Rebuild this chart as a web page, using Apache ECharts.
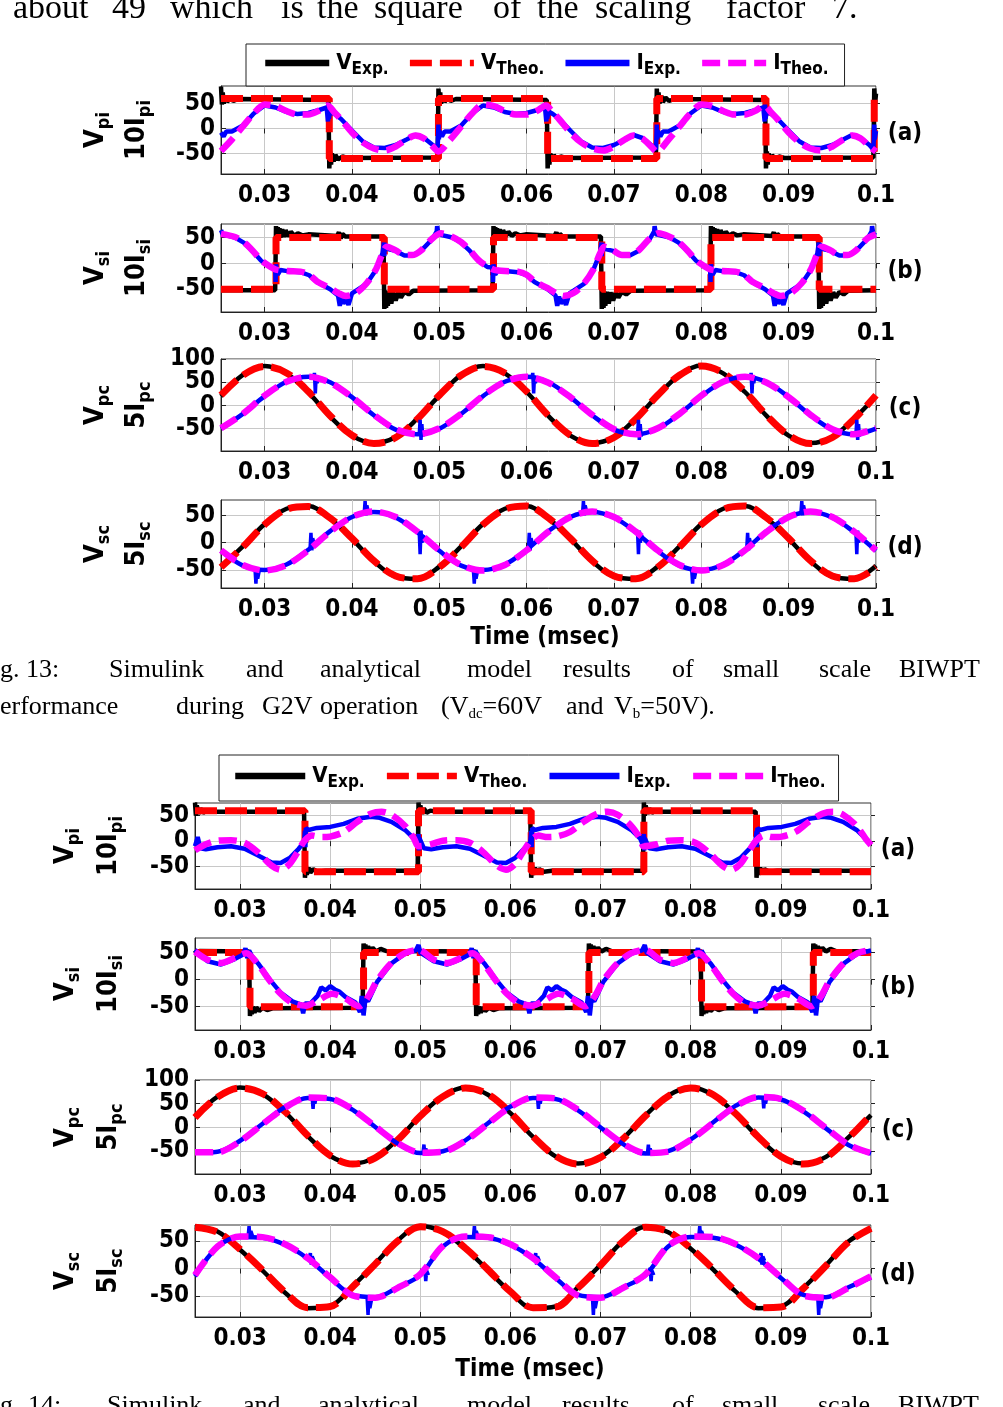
<!DOCTYPE html>
<html><head><meta charset="utf-8">
<script src="https://cdn.jsdelivr.net/npm/echarts@6/dist/echarts.min.js"></script>
<style>html,body{margin:0;padding:0;background:#fff}#c{width:1003px;height:1407px}</style>
</head><body><div id="c"></div>
<script>
// ---------- shared axis values ----------
const tGrid = [0.025,0.0275,0.03,0.0325,0.035,0.0375,0.04,0.0425,0.045,0.0475,0.05,0.0525,0.055,0.0575,0.06,0.0625,0.065,0.0675,0.07,0.0725,0.075,0.0775,0.08,0.0825,0.085,0.0875,0.09,0.0925,0.095,0.0975,0.1];
const xTicks = [0.03,0.04,0.05,0.06,0.07,0.08,0.09,0.1];
const yTicks = [-50,0,50];
const yTicksC = [-50,0,50,100];
const yLabelsC1 = [-50,50];
const yLabelsC2 = [0,100];

// ---------- Fig.13 (a) ----------
const f1a_vTheo = [[0.025,60],[0.0374,60],[0.0374,-60],[0.0499,-60],[0.0499,60],[0.0624,60],[0.0624,-60],[0.0749,-60],[0.0749,60],[0.0874,60],[0.0874,-60],[0.0998,-60],[0.0998,60],[0.1,60]];
const f1a_vExp = [[0.025,84],[0.0251,48],[0.0252,72],[0.0253,50],[0.0255,66],[0.0257,53],[0.026,62],[0.0264,55],[0.027,59],[0.0373,57],
[0.0374,57],[0.0374,-80],[0.0375,-46],[0.0376,-72],[0.0377,-50],[0.0379,-66],[0.0381,-53],[0.0384,-62],[0.0389,-56],[0.0395,-59],[0.0498,-58],
[0.0499,-58],[0.0499,80],[0.05,46],[0.0501,72],[0.0502,50],[0.0504,66],[0.0506,53],[0.0509,62],[0.0513,55],[0.0519,59],[0.0623,57],
[0.0624,57],[0.0624,-80],[0.0625,-46],[0.0626,-72],[0.0627,-50],[0.0629,-66],[0.0631,-53],[0.0634,-62],[0.0639,-56],[0.0645,-59],[0.0748,-58],
[0.0749,-58],[0.0749,80],[0.075,46],[0.0751,72],[0.0752,50],[0.0754,66],[0.0756,53],[0.0759,62],[0.0763,55],[0.0769,59],[0.0873,57],
[0.0874,57],[0.0874,-80],[0.0875,-46],[0.0876,-72],[0.0877,-50],[0.0879,-66],[0.0881,-53],[0.0884,-62],[0.0889,-56],[0.0895,-59],[0.0997,-58],
[0.0998,-58],[0.0998,80],[0.0999,50],[0.1,70]];
const f1a_iTheo = [[0.025,-45],[0.02625,-22],[0.0275,4],[0.02875,30],[0.03,48],[0.03125,45],[0.0325,35],[0.03375,28],[0.035,28],[0.03625,36],[0.0372,46],[0.038,32],[0.03875,18],[0.04,-8],[0.04125,-28],[0.0425,-40],[0.04375,-44],[0.045,-36],[0.04625,-22],[0.04725,-14],[0.04825,-20],[0.04925,-36],[0.0499,-46],
[0.05125,-22],[0.0525,4],[0.05375,30],[0.055,48],[0.05625,45],[0.0575,35],[0.05875,28],[0.06,28],[0.06125,36],[0.0622,46],[0.063,32],[0.06375,18],[0.065,-8],[0.06625,-28],[0.0675,-40],[0.06875,-44],[0.07,-36],[0.07125,-22],[0.07225,-14],[0.07325,-20],[0.07425,-36],[0.0749,-46],
[0.07625,-22],[0.0775,4],[0.07875,30],[0.08,48],[0.08125,45],[0.0825,35],[0.08375,28],[0.085,28],[0.08625,36],[0.0872,46],[0.088,32],[0.08875,18],[0.09,-8],[0.09125,-28],[0.0925,-40],[0.09375,-44],[0.095,-36],[0.09625,-22],[0.09725,-14],[0.09825,-20],[0.09925,-36],[0.1,-46]];
const f1a_iExp = [[0.025,-8],[0.0253,-16],[0.0256,-6],[0.02625,-6],[0.0275,6],[0.02875,30],[0.03,46],[0.03125,42],[0.0325,33],[0.03375,29],[0.035,31],[0.03625,37],[0.0371,42],[0.03725,14],[0.0373,48],[0.03735,20],[0.0375,34],[0.038,29],[0.03875,19],[0.04,-4],[0.04125,-26],[0.0425,-38],[0.04375,-39],[0.045,-33],[0.04625,-22],[0.04725,-13],[0.04825,-19],[0.04925,-33],[0.0498,-42],[0.04985,-20],[0.0499,8],[0.04995,-22],[0.05,-5],[0.0503,-16],[0.0506,-6],
[0.05125,-6],[0.0525,6],[0.05375,30],[0.055,46],[0.05625,42],[0.0575,33],[0.05875,29],[0.06,31],[0.06125,37],[0.0621,42],[0.06225,14],[0.0623,48],[0.06235,20],[0.0625,34],[0.063,29],[0.06375,19],[0.065,-4],[0.06625,-26],[0.0675,-38],[0.06875,-39],[0.07,-33],[0.07125,-22],[0.07225,-13],[0.07325,-19],[0.07425,-33],[0.0748,-42],[0.07485,-20],[0.0749,8],[0.07495,-22],[0.075,-5],[0.0753,-16],[0.0756,-6],
[0.07625,-6],[0.0775,6],[0.07875,30],[0.08,46],[0.08125,42],[0.0825,33],[0.08375,29],[0.085,31],[0.08625,37],[0.0871,42],[0.08725,14],[0.0873,48],[0.08735,20],[0.0875,34],[0.088,29],[0.08875,19],[0.09,-4],[0.09125,-26],[0.0925,-38],[0.09375,-39],[0.095,-33],[0.09625,-22],[0.09725,-13],[0.09825,-19],[0.09925,-33],[0.0997,-42],[0.09975,-20],[0.0998,8],[0.09985,-22],[0.1,-5]];

// ---------- Fig.13 (b) ----------
const f1b_vTheo = [[0.025,-50],[0.0313,-50],[0.0313,50],[0.0437,50],[0.0437,-50],[0.0562,-50],[0.0562,50],[0.0686,50],[0.0686,-50],[0.0811,-50],[0.0811,50],[0.0935,50],[0.0935,-50],[0.1,-50]];
const f1b_vExp = [[0.025,-52],[0.0312,-52],[0.0313,72],[0.0314,46],[0.0315,70],[0.0316,48],[0.0317,68],[0.0318,50],[0.032,66],[0.0322,51],[0.0324,64],[0.0327,52],[0.033,61],[0.0334,53],[0.0338,58],[0.0343,54],[0.035,56],[0.0383,53],[0.0385,60],[0.0387,48],[0.0389,57],[0.0392,52],[0.0436,52],
[0.0437,-88],[0.0438,-52],[0.0439,-86],[0.044,-54],[0.0441,-82],[0.0443,-55],[0.0445,-78],[0.0447,-56],[0.045,-72],[0.0453,-56],[0.0456,-66],[0.046,-55],[0.0465,-60],[0.047,-53],[0.0561,-52],
[0.0562,72],[0.0563,46],[0.0564,70],[0.0565,48],[0.0566,68],[0.0567,50],[0.0569,66],[0.0571,51],[0.0573,64],[0.0576,52],[0.0579,61],[0.0583,53],[0.0587,58],[0.0592,54],[0.0599,56],[0.0632,53],[0.0634,60],[0.0636,48],[0.0638,57],[0.0641,52],[0.0685,52],
[0.0686,-88],[0.0687,-52],[0.0688,-86],[0.0689,-54],[0.069,-82],[0.0692,-55],[0.0694,-78],[0.0696,-56],[0.0699,-72],[0.0702,-56],[0.0705,-66],[0.0709,-55],[0.0714,-60],[0.0719,-53],[0.081,-52],
[0.0811,72],[0.0812,46],[0.0813,70],[0.0814,48],[0.0815,68],[0.0816,50],[0.0818,66],[0.082,51],[0.0822,64],[0.0825,52],[0.0828,61],[0.0832,53],[0.0836,58],[0.0841,54],[0.0848,56],[0.0881,53],[0.0883,60],[0.0885,48],[0.0887,57],[0.089,52],[0.0934,52],
[0.0935,-88],[0.0936,-52],[0.0937,-86],[0.0938,-54],[0.0939,-82],[0.0941,-55],[0.0943,-78],[0.0945,-56],[0.0948,-72],[0.0951,-56],[0.0954,-66],[0.0958,-55],[0.0963,-60],[0.0968,-53],[0.1,-52]];
const f1b_iTheo = [[0.025,57],[0.0266,51],[0.0276,41],[0.0286,25],[0.0296,6],[0.0306,-6],[0.0313,-12],[0.0326,-15],[0.0341,-16],[0.0351,-22],[0.036,-35],[0.0375,-48],[0.0385,-58],[0.0393,-63],[0.0405,-57],[0.0417,-38],[0.0427,-13],[0.0435,19],[0.044,32],[0.045,25],[0.046,16],[0.0469,16],[0.0479,25],[0.0492,48],[0.0502,58],
[0.0515,51],[0.0525,41],[0.0535,25],[0.0545,6],[0.0555,-6],[0.0562,-12],[0.0575,-15],[0.059,-16],[0.06,-22],[0.0609,-35],[0.0624,-48],[0.0634,-58],[0.0642,-63],[0.0654,-57],[0.0666,-38],[0.0676,-13],[0.0684,19],[0.0689,32],[0.0699,25],[0.0709,16],[0.0718,16],[0.0728,25],[0.0741,48],[0.0751,58],
[0.0764,51],[0.0774,41],[0.0784,25],[0.0794,6],[0.0804,-6],[0.0811,-12],[0.0824,-15],[0.0839,-16],[0.0849,-22],[0.0858,-35],[0.0873,-48],[0.0883,-58],[0.0891,-63],[0.0903,-57],[0.0915,-38],[0.0925,-13],[0.0933,19],[0.0938,32],[0.0948,25],[0.0958,16],[0.0967,16],[0.0977,25],[0.099,48],[0.1,56]];
const f1b_iExp = [[0.025,64],[0.0252,56],[0.0266,50],[0.0276,40],[0.0286,24],[0.0296,5],[0.0306,-7],[0.0312,-8],[0.03125,-36],[0.0313,-2],[0.0315,-22],[0.0318,-13],[0.0326,-15],[0.0341,-17],[0.0351,-23],[0.036,-36],[0.0375,-50],[0.0384,-62],[0.0386,-82],[0.0388,-64],[0.039,-78],[0.0393,-68],[0.0396,-80],[0.04,-58],[0.0417,-39],[0.0427,-14],[0.0435,20],[0.04365,40],[0.0437,14],[0.04375,38],[0.044,28],[0.045,24],[0.046,15],[0.0469,15],[0.0479,24],[0.0492,47],[0.0497,62],[0.04975,72],[0.0499,56],
[0.0515,50],[0.0525,40],[0.0535,24],[0.0545,5],[0.0555,-7],[0.0561,-8],[0.05615,-36],[0.0562,-2],[0.0564,-22],[0.0567,-13],[0.0575,-15],[0.059,-17],[0.06,-23],[0.0609,-36],[0.0624,-50],[0.0633,-62],[0.0635,-82],[0.0637,-64],[0.0639,-78],[0.0642,-68],[0.0645,-80],[0.0649,-58],[0.0666,-39],[0.0676,-14],[0.0684,20],[0.06855,40],[0.0686,14],[0.06865,38],[0.0689,28],[0.0699,24],[0.0709,15],[0.0718,15],[0.0728,24],[0.0741,47],[0.0746,62],[0.07465,72],[0.0748,56],
[0.0764,50],[0.0774,40],[0.0784,24],[0.0794,5],[0.0804,-7],[0.081,-8],[0.08105,-36],[0.0811,-2],[0.0813,-22],[0.0816,-13],[0.0824,-15],[0.0839,-17],[0.0849,-23],[0.0858,-36],[0.0873,-50],[0.0882,-62],[0.0884,-82],[0.0886,-64],[0.0888,-78],[0.0891,-68],[0.0894,-80],[0.0898,-58],[0.0915,-39],[0.0925,-14],[0.0933,20],[0.09345,40],[0.0935,14],[0.09355,38],[0.0938,28],[0.0948,24],[0.0958,15],[0.0967,15],[0.0977,24],[0.099,47],[0.0995,62],[0.09955,72],[0.0997,56],[0.1,54]];

// ---------- Fig.13 (c) ----------
const f1c_vTheo = [22,65,84,70,30,-22,-64,-82,-69,-29,22,65,84,70,30,-22,-64,-82,-69,-29,22,65,85,70,30,-22,-64,-82,-69,-29,22];
const f1c_vExp = [20,66,85,69,28,-24,-65,-81,-68,-28,21,66,85,69,29,-23,-65,-81,-68,-28,21,66,86,69,29,-23,-65,-81,-68,-28,20];
const f1c_iTheo = [-49,-18,21,51,62,49,18,-20,-51,-62,-49,-18,21,51,62,49,18,-20,-51,-62,-49,-18,21,51,62,49,18,-20,-51,-62,-49];
const f1c_iExp = [-50,-18,20,51,62,50,18,-21,-52,-62,-50,-18,20,51,62,50,18,-21,-52,-62,-50,-18,20,51,62,50,18,-21,-52,-62,-50];
const f1c_iSpk = [[0.0356,59],[0.0357,70],[0.0358,26],[0.0359,64],[0.036,48],[0.0361,58],[0.0361,'-'],
[0.0477,-62],[0.0478,-31],[0.0479,-74],[0.048,-40],[0.0481,-66],[0.0482,-60],[0.0482,'-'],
[0.0606,59],[0.0607,70],[0.0608,26],[0.0609,64],[0.061,48],[0.0611,58],[0.0611,'-'],
[0.0727,-62],[0.0728,-31],[0.0729,-74],[0.073,-40],[0.0731,-66],[0.0732,-60],[0.0732,'-'],
[0.0856,59],[0.0857,70],[0.0858,26],[0.0859,64],[0.086,48],[0.0861,58],[0.0861,'-'],
[0.0977,-62],[0.0978,-31],[0.0979,-74],[0.098,-40],[0.0981,-66],[0.0982,-60]];

// ---------- Fig.13 (d) ----------
const f1d_vTheo = [-45,-8,33,61,66,45,8,-33,-61,-66,-45,-8,33,61,67,45,8,-33,-61,-66,-45,-8,33,61,67,45,8,-33,-61,-66,-45];
const f1d_vExp = [-44,-7,34,62,67,44,7,-34,-62,-66,-44,-7,34,62,67,44,7,-34,-62,-66,-44,-7,34,62,67,44,7,-34,-62,-66,-42];
const f1d_iTheo = [-14,-41,-51,-41,-14,20,47,57,47,20,-14,-41,-51,-41,-14,20,47,57,47,20,-14,-41,-51,-41,-14,20,47,57,47,20,-14];
const f1d_iExp = [-15,-42,-50,-40,-13,21,47,56,46,19,-15,-42,-50,-40,-13,21,47,56,46,19,-15,-42,-50,-40,-13,21,47,56,46,19,-15];
const f1d_iSpk = [[0.0289,-50],[0.029,-75],[0.0291,-45],[0.0292,-66],[0.0294,-50],[0.0294,'-'],
[0.0352,-11],[0.0353,18],[0.0354,-14],[0.0355,8],[0.0357,-6],[0.0357,'-'],
[0.0414,54],[0.0415,76],[0.0416,50],[0.0417,68],[0.0419,54],[0.0419,'-'],
[0.0477,19],[0.0478,-21],[0.0479,22],[0.048,0],[0.0482,14],[0.0482,'-'],
[0.0539,-50],[0.054,-75],[0.0541,-45],[0.0542,-66],[0.0544,-50],[0.0544,'-'],
[0.0602,-11],[0.0603,18],[0.0604,-14],[0.0605,8],[0.0607,-6],[0.0607,'-'],
[0.0664,54],[0.0665,76],[0.0666,50],[0.0667,68],[0.0669,54],[0.0669,'-'],
[0.0727,19],[0.0728,-21],[0.0729,22],[0.073,0],[0.0732,14],[0.0732,'-'],
[0.0789,-50],[0.079,-75],[0.0791,-45],[0.0792,-66],[0.0794,-50],[0.0794,'-'],
[0.0852,-11],[0.0853,18],[0.0854,-14],[0.0855,8],[0.0857,-6],[0.0857,'-'],
[0.0914,54],[0.0915,76],[0.0916,50],[0.0917,68],[0.0919,54],[0.0919,'-'],
[0.0977,19],[0.0978,-21],[0.0979,22],[0.098,0],[0.0982,14]];

// ---------- Fig.14 (a) ----------
const f2a_vTheo = [[0.025,60],[0.0372,60],[0.0372,-60],[0.0498,-60],[0.0498,60],[0.0623,60],[0.0623,-60],[0.0748,-60],[0.0748,60],[0.0873,60],[0.0873,-60],[0.1,-60]];
const f2a_vExp = [[0.025,76],[0.0251,50],[0.0252,70],[0.0254,54],[0.0256,64],[0.0259,56],[0.0263,60],[0.027,58],[0.0371,58],
[0.0372,-72],[0.0373,-48],[0.0374,-66],[0.0376,-52],[0.0378,-62],[0.0381,-55],[0.0386,-60],[0.0395,-58],[0.0497,-58],
[0.0498,76],[0.0499,50],[0.05,70],[0.0502,54],[0.0504,64],[0.0507,56],[0.0511,60],[0.0518,58],[0.0622,58],
[0.0623,-72],[0.0624,-48],[0.0625,-66],[0.0627,-52],[0.0629,-62],[0.0632,-55],[0.0637,-60],[0.0646,-58],[0.0747,-58],
[0.0748,76],[0.0749,50],[0.075,70],[0.0752,54],[0.0754,64],[0.0757,56],[0.0761,60],[0.0768,58],[0.0872,58],
[0.0873,-72],[0.0874,-48],[0.0875,-66],[0.0877,-52],[0.0879,-62],[0.0882,-55],[0.0887,-60],[0.0896,-58],[0.1,-58]];
const f2a_iTheo = [[0.025,-18],[0.0262,-6],[0.0275,1],[0.029,2],[0.0305,-3],[0.032,-22],[0.0335,-48],[0.0345,-56],[0.0355,-45],[0.0365,-18],[0.0372,2],[0.038,11],[0.039,8],[0.04,9],[0.0415,18],[0.043,38],[0.0445,54],[0.0457,58],[0.0468,52],[0.0483,30],[0.0493,5],[0.0498,-10],
[0.0512,-6],[0.0525,1],[0.054,2],[0.0555,-3],[0.057,-22],[0.0585,-48],[0.0595,-56],[0.0605,-45],[0.0615,-18],[0.0623,2],[0.0631,11],[0.0641,8],[0.0651,9],[0.0666,18],[0.0681,38],[0.0696,54],[0.0708,58],[0.0719,52],[0.0734,30],[0.0744,5],[0.0748,-10],
[0.0762,-6],[0.0775,1],[0.079,2],[0.0805,-3],[0.082,-22],[0.0835,-48],[0.0845,-56],[0.0855,-45],[0.0865,-18],[0.0873,2],[0.0881,11],[0.0891,8],[0.0901,9],[0.0916,18],[0.0931,38],[0.0946,54],[0.0958,58],[0.0969,52],[0.0984,30],[0.0994,5],[0.1,-8]];
const f2a_iExp = [[0.025,-10],[0.0253,8],[0.0256,-14],[0.0262,-16],[0.0275,-12],[0.029,-10],[0.0305,-15],[0.032,-28],[0.0335,-42],[0.0345,-43],[0.0355,-33],[0.0365,-15],[0.0371,-2],[0.0372,20],[0.03725,-12],[0.0373,26],[0.0376,22],[0.0385,26],[0.04,28],[0.0415,34],[0.043,44],[0.0445,48],[0.0455,46],[0.0468,38],[0.0483,22],[0.0493,5],[0.0497,-8],[0.0498,14],[0.04985,-18],[0.0499,6],[0.0504,-14],
[0.0512,-16],[0.0525,-12],[0.054,-10],[0.0555,-15],[0.057,-28],[0.0585,-42],[0.0595,-43],[0.0605,-33],[0.0615,-15],[0.0622,-2],[0.0623,20],[0.06235,-12],[0.0624,26],[0.0627,22],[0.0636,26],[0.0651,28],[0.0666,34],[0.0681,44],[0.0696,48],[0.0706,46],[0.0719,38],[0.0734,22],[0.0744,5],[0.0747,-8],[0.0748,14],[0.07485,-18],[0.0749,6],[0.0754,-14],
[0.0762,-16],[0.0775,-12],[0.079,-10],[0.0805,-15],[0.082,-28],[0.0835,-42],[0.0845,-43],[0.0855,-33],[0.0865,-15],[0.0872,-2],[0.0873,20],[0.08735,-12],[0.0874,26],[0.0877,22],[0.0886,26],[0.0901,28],[0.0916,34],[0.0931,44],[0.0946,48],[0.0956,46],[0.0969,38],[0.0984,22],[0.0994,5],[0.1,-6]];

// ---------- Fig.14 (b) ----------
const f2b_vTheo = [[0.025,50],[0.0311,50],[0.0311,-50],[0.0437,-50],[0.0437,50],[0.0562,50],[0.0562,-50],[0.0687,-50],[0.0687,50],[0.0812,50],[0.0812,-50],[0.0936,-50],[0.0936,50],[0.1,50]];
const f2b_vExp = [[0.025,54],[0.0252,48],[0.0255,53],[0.031,52],[0.0311,-67],[0.0312,-48],[0.0313,-64],[0.0314,-50],[0.0316,-61],[0.0318,-51],[0.0321,-58],[0.0325,-52],[0.033,-56],[0.0336,-53],[0.0436,-52],
[0.0437,67],[0.0438,48],[0.0439,65],[0.044,50],[0.0442,62],[0.0444,51],[0.0447,59],[0.0451,52],[0.0456,57],[0.0462,53],[0.0561,52],
[0.0562,-67],[0.0563,-48],[0.0564,-64],[0.0565,-50],[0.0567,-61],[0.0569,-51],[0.0572,-58],[0.0576,-52],[0.0581,-56],[0.0587,-53],[0.0686,-52],
[0.0687,67],[0.0688,48],[0.0689,65],[0.069,50],[0.0692,62],[0.0694,51],[0.0697,59],[0.0701,52],[0.0706,57],[0.0712,53],[0.0811,52],
[0.0812,-67],[0.0813,-48],[0.0814,-64],[0.0815,-50],[0.0817,-61],[0.0819,-51],[0.0822,-58],[0.0826,-52],[0.0831,-56],[0.0837,-53],[0.0935,-52],
[0.0936,67],[0.0937,48],[0.0938,65],[0.0939,50],[0.0941,62],[0.0943,51],[0.0946,59],[0.095,52],[0.0955,57],[0.0961,53],[0.1,52]];
const f2b_iTheo = [[0.025,52],[0.0264,37],[0.0279,31],[0.0294,40],[0.0307,49],[0.032,28],[0.0333,-2],[0.0345,-26],[0.0358,-43],[0.0373,-48],[0.0386,-39],[0.0402,-26],[0.0417,-35],[0.0432,-49],[0.0442,-32],[0.0452,-2],[0.0468,31],[0.0483,49],[0.0498,55],
[0.0515,37],[0.053,31],[0.0545,40],[0.0558,49],[0.0571,28],[0.0584,-2],[0.0596,-26],[0.0609,-43],[0.0624,-48],[0.0637,-39],[0.0653,-26],[0.0668,-35],[0.0683,-49],[0.0693,-32],[0.0703,-2],[0.0719,31],[0.0734,49],[0.0749,55],
[0.0766,37],[0.0781,31],[0.0796,40],[0.0809,49],[0.0822,28],[0.0835,-2],[0.0847,-26],[0.086,-43],[0.0875,-48],[0.0888,-39],[0.0904,-26],[0.0919,-35],[0.0934,-49],[0.0944,-32],[0.0954,-2],[0.097,31],[0.0985,49],[0.1,55]];
const f2b_iExp = [[0.025,55],[0.0264,34],[0.0279,28],[0.0294,38],[0.0303,46],[0.0306,58],[0.0308,40],[0.031,54],[0.0313,44],[0.032,30],[0.0333,0],[0.0345,-24],[0.0358,-40],[0.0368,-46],[0.037,-62],[0.0372,-44],[0.0378,-44],[0.0386,-30],[0.039,-14],[0.0395,-20],[0.04,-12],[0.0405,-18],[0.041,-22],[0.0417,-32],[0.0428,-42],[0.0433,-60],[0.0435,-30],[0.0437,-66],[0.0439,-36],[0.0442,-40],[0.0452,-4],[0.0468,30],[0.0483,48],[0.0495,54],[0.0498,64],[0.05,50],
[0.0515,34],[0.053,28],[0.0545,38],[0.0554,46],[0.0557,58],[0.0559,40],[0.0561,54],[0.0564,44],[0.0571,30],[0.0584,0],[0.0596,-24],[0.0609,-40],[0.0619,-46],[0.0621,-62],[0.0623,-44],[0.0629,-44],[0.0637,-30],[0.0641,-14],[0.0646,-20],[0.0651,-12],[0.0656,-18],[0.0661,-22],[0.0668,-32],[0.0679,-42],[0.0684,-60],[0.0686,-30],[0.0688,-66],[0.069,-36],[0.0693,-40],[0.0703,-4],[0.0719,30],[0.0734,48],[0.0746,54],[0.0749,64],[0.0751,50],
[0.0766,34],[0.0781,28],[0.0796,38],[0.0805,46],[0.0808,58],[0.081,40],[0.0812,54],[0.0815,44],[0.0822,30],[0.0835,0],[0.0847,-24],[0.086,-40],[0.087,-46],[0.0872,-62],[0.0874,-44],[0.088,-44],[0.0888,-30],[0.0892,-14],[0.0897,-20],[0.0902,-12],[0.0907,-18],[0.0912,-22],[0.0919,-32],[0.093,-42],[0.0935,-60],[0.0937,-30],[0.0939,-66],[0.0941,-36],[0.0944,-40],[0.0954,-4],[0.097,30],[0.0985,48],[0.1,54]];

// ---------- Fig.14 (c) ----------
const f2c_vTheo = [21,64,83,71,33,-17,-59,-77,-64,-26,24,65,83,70,31,-19,-60,-77,-63,-24,25,66,83,69,29,-20,-61,-77,-63,-22,27];
const f2c_vExp = [22,65,84,70,32,-18,-60,-76,-63,-25,25,66,84,69,30,-20,-61,-76,-62,-23,26,67,84,68,28,-21,-62,-76,-62,-21,26];
const f2c_iTheo = [-52,-52,-29,7,42,63,61,38,2,-33,-53,-51,-28,8,43,63,61,37,1,-34,-54,-51,-26,10,45,64,60,35,-1,-36,-54];
const f2c_iExp = [-53,-51,-28,8,43,62,60,37,1,-34,-54,-50,-27,9,44,62,60,36,0,-35,-55,-50,-25,11,46,63,59,34,-2,-37,-55];
const f2c_iSpk = [[0.038,63],[0.0381,39],[0.0382,66],[0.0383,50],[0.0384,60],[0.0384,'-'],
[0.0503,-53],[0.0504,-36],[0.0505,-58],[0.0506,-44],[0.0507,-52],[0.0507,'-'],
[0.063,63],[0.0631,39],[0.0632,66],[0.0633,50],[0.0634,60],[0.0634,'-'],
[0.0752,-54],[0.0753,-36],[0.0754,-58],[0.0755,-44],[0.0756,-52],[0.0756,'-'],
[0.088,64],[0.0881,40],[0.0882,66],[0.0883,50],[0.0884,60]];

// ---------- Fig.14 (d) ----------
const f2d_vTheo = [75,66,35,-3,-43,-71,-69,-33,8,50,76,67,37,-2,-42,-71,-70,-35,6,49,75,67,37,-1,-41,-71,-70,-36,5,48,73];
const f2d_vExp = [76,67,34,-4,-44,-72,-68,-32,9,51,77,66,36,-3,-43,-72,-69,-34,7,50,76,66,36,-2,-42,-72,-69,-35,6,49,72];
const f2d_iTheo = [-12,40,58,57,44,19,-16,-49,-53,-35,-10,41,58,57,44,19,-16,-49,-53,-35,-10,41,58,57,44,19,-16,-49,-53,-35,-14];
const f2d_iExp = [-14,39,57,56,43,18,-17,-48,-52,-34,-12,40,57,56,43,18,-17,-48,-52,-34,-12,40,57,56,43,18,-17,-48,-52,-34,-16];
const f2d_iSpk = [[0.0309,59],[0.031,77],[0.0311,55],[0.0312,68],[0.0314,58],[0.0314,'-'],
[0.0377,20],[0.0378,28],[0.0379,7],[0.038,22],[0.0382,14],[0.0382,'-'],
[0.0441,-54],[0.0442,-84],[0.0443,-50],[0.0444,-72],[0.0446,-55],[0.0446,'-'],
[0.0504,-6],[0.0505,1],[0.0506,-23],[0.0507,-4],[0.0509,-12],[0.0509,'-'],
[0.0559,59],[0.056,77],[0.0561,55],[0.0562,68],[0.0564,58],[0.0564,'-'],
[0.0627,20],[0.0628,28],[0.0629,7],[0.063,22],[0.0632,14],[0.0632,'-'],
[0.0691,-54],[0.0692,-84],[0.0693,-50],[0.0694,-72],[0.0696,-55],[0.0696,'-'],
[0.0754,-6],[0.0755,1],[0.0756,-23],[0.0757,-4],[0.0759,-12],[0.0759,'-'],
[0.0809,59],[0.081,77],[0.0811,55],[0.0812,68],[0.0814,58],[0.0814,'-'],
[0.0877,20],[0.0878,28],[0.0879,7],[0.088,22],[0.0882,14],[0.0882,'-'],
[0.0941,-54],[0.0942,-84],[0.0943,-50],[0.0944,-72],[0.0946,-55]];

// ---------- build ----------
const zipT = vals => vals.map((v, i) => [tGrid[i], v]);
const SANS = "'DejaVu Sans Condensed','DejaVu Sans',sans-serif";
const SERIF = "'Liberation Serif','DejaVu Serif',serif";

const panels = [
  {g:{left:221,top:86,width:655,height:88},  y:[-91,85], yt:yTicks, sq:true, vE:f1a_vExp, vT:f1a_vTheo, iE:f1a_iExp, iT:f1a_iTheo, spk:null, sub:'pi', k:'10I', tag:'(a)', nx:[96,137], tx:905},
  {g:{left:221,top:224,width:655,height:88}, y:[-94,76], yt:yTicks, sq:true, vE:f1b_vExp, vT:f1b_vTheo, iE:f1b_iExp, iT:f1b_iTheo, spk:null, sub:'si', k:'10I', tag:'(b)', nx:[96,137], tx:905},
  {g:{left:221,top:359,width:655,height:92}, y:[-98,100], yt:yTicksC, yl:[yLabelsC1,yLabelsC2], sq:false, vE:zipT(f1c_vExp), vT:zipT(f1c_vTheo), iE:zipT(f1c_iExp), iT:zipT(f1c_iTheo), spk:f1c_iSpk, sub:'pc', k:'5I', tag:'(c)', nx:[96,137], tx:905},
  {g:{left:221,top:500,width:655,height:88}, y:[-83,78], yt:yTicks, sq:false, vE:zipT(f1d_vExp), vT:zipT(f1d_vTheo), iE:zipT(f1d_iExp), iT:zipT(f1d_iTheo), spk:f1d_iSpk, sub:'sc', k:'5I', tag:'(d)', nx:[96,137], tx:905},
  {g:{left:195,top:803,width:676,height:86}, y:[-94,75], yt:yTicks, sq:true, vE:f2a_vExp, vT:f2a_vTheo, iE:f2a_iExp, iT:f2a_iTheo, spk:null, sub:'pi', k:'10I', tag:'(a)', nx:[66,109], tx:898},
  {g:{left:195,top:938,width:676,height:92}, y:[-93,77], yt:yTicks, sq:true, vE:f2b_vExp, vT:f2b_vTheo, iE:f2b_iExp, iT:f2b_iTheo, spk:null, sub:'si', k:'10I', tag:'(b)', nx:[66,109], tx:898},
  {g:{left:195,top:1080,width:676,height:94}, y:[-98,100], yt:yTicksC, yl:[yLabelsC1,yLabelsC2], sq:false, vE:zipT(f2c_vExp), vT:zipT(f2c_vTheo), iE:zipT(f2c_iExp), iT:zipT(f2c_iTheo), spk:f2c_iSpk, sub:'pc', k:'5I', tag:'(c)', nx:[66,109], tx:898},
  {g:{left:195,top:1225,width:676,height:92}, y:[-88,79], yt:yTicks, sq:false, vE:zipT(f2d_vExp), vT:zipT(f2d_vTheo), iE:zipT(f2d_iExp), iT:zipT(f2d_iTheo), spk:f2d_iSpk, sub:'sc', k:'5I', tag:'(d)', nx:[66,109], tx:898}
];

const grid = [], xAxis = [], yAxis = [], xAxis2 = [], yAxis2 = [], series = [], graphic = [];
const lbl = {color:'#000', fontFamily:SANS, fontWeight:'bold', fontSize:24, lineHeight:16, padding:0, interval:0, hideOverlap:false, showMinLabel:true, showMaxLabel:true};
const subRich = {
  m:{fontFamily:SANS, fontWeight:'bold', fontSize:27, lineHeight:34, verticalAlign:'middle', fill:'#000', color:'#000'},
  s:{fontFamily:SANS, fontWeight:'bold', fontSize:18, lineHeight:18, verticalAlign:'bottom', fill:'#000', color:'#000'}
};
panels.forEach((p, i) => {
  grid.push(Object.assign({show:true, borderColor:'#333', borderWidth:1, backgroundColor:'#fff', outerBoundsMode:'none', containLabel:false}, p.g));
  xAxis.push({type:'value', gridIndex:i, min:0.025, max:0.1,
    axisLine:{show:true, onZero:false, lineStyle:{color:'#222', width:1}},
    axisTick:{show:true, inside:true, length:5, customValues:xTicks, lineStyle:{color:'#222'}},
    axisLabel:Object.assign({customValues:xTicks, margin:14, formatter: v => (Math.abs(v-0.1)<1e-9 ? '0.1' : v.toFixed(2))}, lbl),
    splitLine:{show:true, customValues:xTicks, lineStyle:{color:'#c8c8c8', width:1}}});
  yAxis.push({type:'value', gridIndex:i, min:p.y[0], max:p.y[1],
    axisLine:{show:true, onZero:false, lineStyle:{color:'#222', width:1}},
    axisTick:{show:true, inside:true, length:5, customValues:p.yt, lineStyle:{color:'#222'}},
    axisLabel:Object.assign({customValues:p.yl ? p.yl[0] : p.yt, margin:6}, lbl),
    splitLine:{show:true, customValues:p.yt, lineStyle:{color:'#c8c8c8', width:1}}});
  xAxis2.push({type:'value', gridIndex:i, position:'top', min:0.025, max:0.1,
    axisLine:{show:false}, axisLabel:{show:false}, splitLine:{show:false},
    axisTick:{show:true, inside:true, length:5, customValues:xTicks, lineStyle:{color:'#222'}}});
  yAxis2.push({type:'value', gridIndex:i, position:'right', min:p.y[0], max:p.y[1],
    axisLine:{show:false}, axisLabel:{show:false}, splitLine:{show:false},
    axisTick:{show:true, inside:false, length:4, customValues:p.yt, lineStyle:{color:'#222'}}});
  if (p.yl) {
    // second label set on the left (keeps the closely spaced labels from being thinned out)
    yAxis2.push({type:'value', gridIndex:i, position:'left', offset:0, min:p.y[0], max:p.y[1],
      axisLine:{show:false}, axisTick:{show:false}, splitLine:{show:false},
      axisLabel:Object.assign({customValues:p.yl[1], margin:6}, lbl)});
  }
  const sm = p.sq ? false : 0.35;
  const common = {type:'line', xAxisIndex:i, yAxisIndex:i, symbol:'none', showSymbol:false, animation:false, silent:true};
  series.push(Object.assign({}, common, {name:'V_Exp', data:p.vE, smooth:sm, lineStyle:{color:'#000000', width:4.5}, itemStyle:{color:'#000000'}}));
  series.push(Object.assign({}, common, {name:'V_Theo', data:p.vT, smooth:sm, lineStyle:{color:'#ff0000', width:7, type:[22,8]}, itemStyle:{color:'#ff0000'}}));
  series.push(Object.assign({}, common, {name:'I_Exp', data:p.iE, smooth:sm, lineStyle:{color:'#0000ff', width:4.5}, itemStyle:{color:'#0000ff'}}));
  if (p.spk) series.push(Object.assign({}, common, {name:'I_Exp', data:p.spk, smooth:false, lineStyle:{color:'#0000ff', width:3.5}, itemStyle:{color:'#0000ff'}}));
  series.push(Object.assign({}, common, {name:'I_Theo', data:p.iT, smooth:0.3, lineStyle:{color:'#ff00ff', width:6.5, type:[18,8]}, itemStyle:{color:'#ff00ff'}}));
  const cy = p.g.top + p.g.height/2;
  graphic.push({type:'text', x:p.nx[0], y:cy, rotation:Math.PI/2, style:{text:'{m|V}{s|' + p.sub + '}', rich:subRich, align:'center', verticalAlign:'middle'}});
  graphic.push({type:'text', x:p.nx[1], y:cy, rotation:Math.PI/2, style:{text:'{m|' + p.k + '}{s|' + p.sub + '}', rich:subRich, align:'center', verticalAlign:'middle'}});
  graphic.push({type:'text', x:p.tx, y:cy+4, style:{text:p.tag, font:'bold 24px ' + SANS, fill:'#000', align:'center', verticalAlign:'middle'}});
});

graphic.push({type:'text', x:545, y:638, style:{text:'Time (msec)', font:'bold 24px ' + SANS, fill:'#000', align:'center', verticalAlign:'middle'}});
graphic.push({type:'text', x:530, y:1370, style:{text:'Time (msec)', font:'bold 24px ' + SANS, fill:'#000', align:'center', verticalAlign:'middle'}});

// captions / body text (words placed as in the scanned page)
const capFont = '26px ' + SERIF;
const topWords = [['about',13],['49',112],['which',170],['is',281],['the',317],['square',374],['of',493],['the',537],['scaling',595],['factor',726],['7.',832]];
topWords.forEach(w => graphic.push({type:'text', x:w[1], y:9, style:{text:w[0], font:'34px ' + SERIF, fill:'#000', align:'left', verticalAlign:'middle'}}));
const capWords13 = [['g.',0],['13:',26],['Simulink',109],['and',246],['analytical',320],['model',467],['results',563],['of',672],['small',723],['scale',819],['BIWPT',899]];
capWords13.forEach(w => graphic.push({type:'text', x:w[1], y:670, style:{text:w[0], font:capFont, fill:'#000', align:'left', verticalAlign:'middle'}}));
const capRich = {n:{fontFamily:SERIF, fontSize:26, fill:'#000', color:'#000', lineHeight:30, verticalAlign:'middle'}, b:{fontFamily:SERIF, fontSize:15, fill:'#000', color:'#000', lineHeight:15, verticalAlign:'bottom'}};
const capLine2 = [['{n|erformance}',0],['{n|during}',176],['{n|G2V}',262],['{n|operation}',320],['{n|(V}{b|dc}{n|=60V}',441],['{n|and}',566],['{n|V}{b|b}{n|=50V).}',614]];
capLine2.forEach(w => graphic.push({type:'text', x:w[1], y:707, style:{text:w[0], rich:capRich, align:'left', verticalAlign:'middle'}}));
const capWords14 = [['g.',0],['14:',28],['Simulink',107],['and',243],['analytical',318],['model',467],['results',562],['of',672],['small',722],['scale',818],['BIWPT',898]];
capWords14.forEach(w => graphic.push({type:'text', x:w[1], y:1406, style:{text:w[0], font:capFont, fill:'#000', align:'left', verticalAlign:'middle'}}));

const legendNames = ['V_Exp','V_Theo','I_Exp','I_Theo'];
const legendText = {V_Exp:'{m|V}{s|Exp.}', V_Theo:'{m|V}{s|Theo.}', I_Exp:'{m|I}{s|Exp.}', I_Theo:'{m|I}{s|Theo.}'};
const legRich = {m:{fontFamily:SANS, fontWeight:'bold', fontSize:22, lineHeight:30, verticalAlign:'middle', color:'#000'}, s:{fontFamily:SANS, fontWeight:'bold', fontSize:17, lineHeight:15, verticalAlign:'bottom', color:'#000'}};
const mkLegend = (left, top, iw, gap, pad) => ({data:legendNames, left, top, orient:'horizontal', itemWidth:iw, itemHeight:10, itemGap:gap,
  padding:pad, borderColor:'#222', borderWidth:1, backgroundColor:'#fff', selectedMode:false,
  itemStyle:{opacity:0}, lineStyle:{width:6.5}, formatter: n => legendText[n], textStyle:{rich:legRich, padding:[0,0,0,2]}});

const chart = echarts.init(document.getElementById('c'), null, {renderer:'canvas', width:1003, height:1407});
chart.setOption({
  animation:false, backgroundColor:'#fff',
  grid, xAxis: xAxis.concat(xAxis2), yAxis: yAxis.concat(yAxis2), series,
  legend:[mkLegend(246,44,64,18,[8,16,8,16]), mkLegend(219,755,70,19,[10,13,10,13])],
  graphic
});
</script></body></html>
